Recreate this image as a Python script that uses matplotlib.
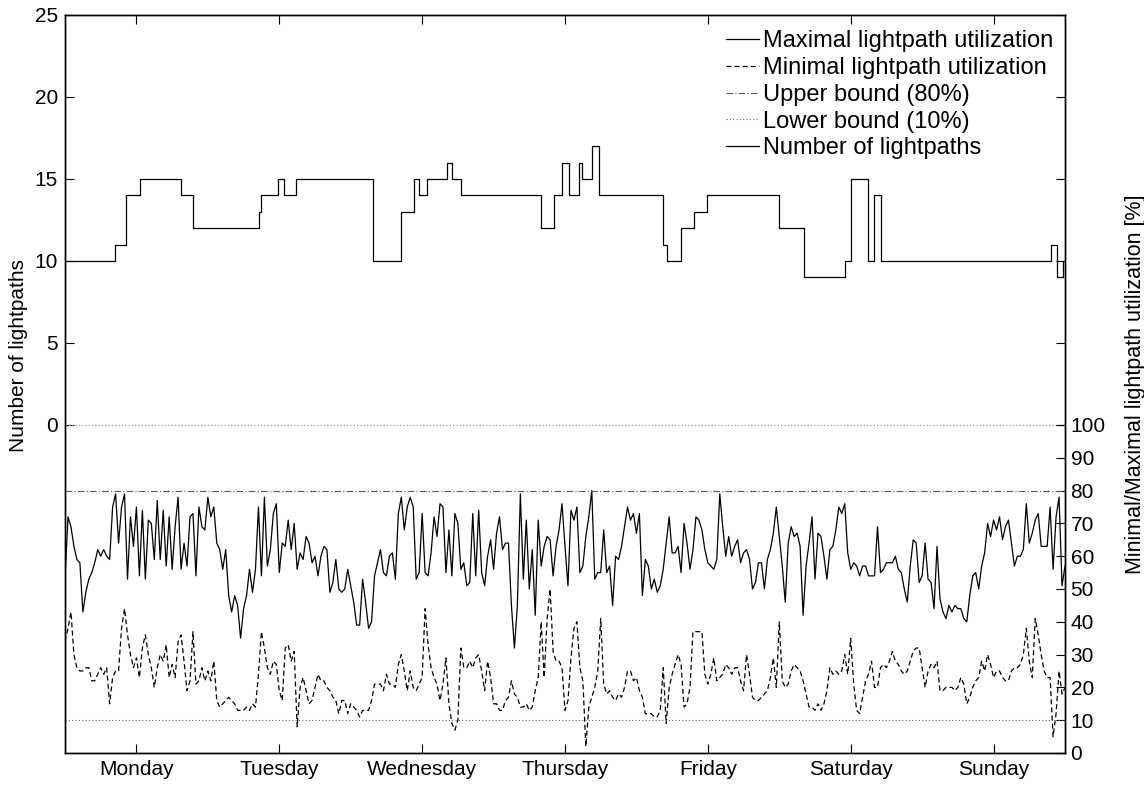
import numpy as np
import matplotlib.pyplot as plt
from matplotlib.lines import Line2D

# day labels for the x axis (one tick in the middle of every day)
days = ["Monday", "Tuesday", "Wednesday", "Thursday", "Friday", "Saturday", "Sunday"]

# maximal lightpath utilization [%], one sample every 30 minutes
mon_max = [53, 72, 69, 63, 59, 58, 43, 49, 53, 55, 58, 62, 60, 62, 60, 59, 75, 79, 64, 75,
           79, 53, 72, 63, 75, 54, 74, 53, 71, 70, 59, 77, 59, 74, 57, 72, 56, 69, 78, 56,
           64, 57, 72, 73, 54, 75, 69, 68]
tue_max = [78, 72, 75, 64, 62, 56, 62, 48, 43, 48, 45, 35, 44, 48, 56, 49, 56, 75, 54, 78,
           57, 62, 73, 76, 55, 64, 63, 71, 62, 70, 56, 61, 59, 66, 64, 58, 60, 54, 60, 63,
           62, 49, 52, 59, 50, 49, 50, 56]
wed_max = [51, 46, 39, 39, 53, 46, 38, 40, 54, 58, 62, 55, 54, 60, 61, 53, 73, 78, 68, 75,
           78, 75, 53, 55, 73, 55, 54, 61, 72, 66, 76, 75, 55, 68, 54, 73, 70, 56, 58, 51,
           52, 73, 54, 74, 55, 51, 60, 65]
thu_max = [56, 67, 72, 62, 64, 64, 45, 32, 45, 79, 53, 71, 50, 62, 42, 71, 57, 63, 66, 65,
           54, 63, 68, 76, 63, 51, 74, 71, 75, 55, 57, 66, 72, 80, 53, 55, 55, 68, 55, 57,
           45, 60, 59, 63, 69, 75, 71, 73]
fri_max = [67, 73, 48, 59, 57, 50, 53, 49, 51, 56, 64, 72, 61, 61, 63, 55, 70, 64, 56, 62,
           72, 71, 68, 62, 58, 57, 56, 59, 79, 69, 60, 66, 60, 63, 65, 58, 61, 62, 59, 50,
           52, 58, 58, 50, 59, 62, 67, 75]
sat_max = [66, 57, 46, 64, 69, 66, 67, 63, 42, 57, 64, 72, 53, 67, 66, 60, 53, 62, 63, 68,
           75, 73, 76, 61, 56, 58, 57, 54, 57, 57, 54, 54, 54, 69, 55, 56, 58, 58, 58, 60,
           56, 55, 50, 46, 57, 65, 64, 52]
sun_max = [54, 64, 53, 52, 44, 63, 47, 43, 41, 45, 43, 45, 44, 44, 41, 40, 48, 54, 55, 50,
           57, 61, 70, 66, 71, 68, 72, 65, 69, 71, 64, 57, 60, 60, 62, 76, 64, 67, 71, 73,
           63, 63, 63, 75, 56, 72, 78, 51, 57]

# minimal lightpath utilization [%]
mon_min = [34, 38, 43, 30, 26, 25, 25, 26, 26, 22, 22, 24, 26, 24, 26, 15, 23, 25, 25, 38,
           44, 36, 30, 26, 29, 23, 32, 36, 30, 26, 20, 26, 30, 28, 33, 23, 27, 23, 34, 36,
           28, 19, 22, 37, 21, 22, 26, 22]
tue_min = [25, 22, 28, 16, 14, 15, 16, 17, 16, 15, 13, 13, 13, 14, 13, 15, 14, 24, 37, 32,
           26, 24, 28, 27, 19, 16, 32, 33, 28, 31, 8, 20, 23, 19, 15, 16, 20, 24, 22, 22,
           20, 19, 17, 16, 12, 16, 16, 12]
wed_min = [15, 14, 13, 11, 13, 13, 13, 16, 21, 21, 21, 19, 24, 21, 21, 20, 27, 30, 25, 19,
           25, 20, 19, 21, 23, 44, 33, 26, 23, 21, 16, 21, 29, 15, 9, 7, 10, 32, 26, 26,
           28, 26, 29, 30, 25, 19, 28, 23]
thu_min = [15, 15, 13, 13, 16, 17, 22, 18, 17, 14, 14, 15, 13, 14, 19, 23, 40, 23, 41, 50,
           31, 28, 28, 26, 13, 16, 29, 38, 40, 26, 22, 2, 14, 17, 20, 25, 41, 21, 18, 19,
           17, 16, 18, 17, 20, 25, 25, 22]
fri_min = [23, 19, 17, 12, 12, 12, 11, 11, 13, 26, 9, 20, 24, 27, 30, 27, 14, 15, 20, 37,
           37, 37, 37, 24, 21, 24, 29, 22, 23, 24, 27, 26, 24, 26, 26, 22, 19, 30, 24, 17,
           16, 16, 17, 18, 19, 23, 29, 20]
sat_min = [40, 22, 20, 21, 25, 27, 26, 25, 22, 18, 14, 14, 13, 15, 13, 15, 19, 26, 24, 25,
           24, 25, 30, 24, 35, 21, 13, 12, 17, 22, 24, 28, 20, 20, 26, 27, 26, 28, 31, 28,
           27, 25, 24, 25, 28, 31, 32, 32]
sun_min = [26, 20, 25, 27, 26, 28, 19, 19, 20, 20, 20, 19, 20, 23, 21, 15, 17, 20, 22, 23,
           28, 25, 30, 27, 23, 25, 25, 23, 22, 22, 25, 26, 26, 27, 30, 38, 28, 23, 41, 36,
           30, 25, 23, 23, 5, 12, 25, 18, 20]

# number of lightpaths: hour of the week where a new value starts, and that value
lp_hours = [0, 8.4, 10.2, 12.6, 19.5, 21.5, 32.6, 33.0, 35.7, 36.8, 38.8, 51.7, 56.4,
            58.6, 59.5, 60.8, 64.2, 65.0, 66.5, 80.0, 82.2, 83.5, 84.7, 86.3, 86.9, 88.6,
            89.7, 100.4, 101.2, 103.5, 105.6, 107.8, 120.0, 124.2, 131.0, 132.1, 134.9,
            135.9, 137.1, 165.7, 166.7, 167.6]
lp_count = [10, 11, 14, 15, 14, 12, 13, 14, 15, 14, 15, 10, 13,
            15, 14, 15, 16, 15, 14, 12, 14, 16, 14, 16, 15, 17,
            14, 11, 10, 12, 13, 14, 12, 9, 10, 15, 10,
            14, 10, 11, 9, 10]

upper_bound = 80
lower_bound = 10

max_util = np.array(mon_max + tue_max + wed_max + thu_max + fri_max + sat_max + sun_max)
min_util = np.array(mon_min + tue_min + wed_min + thu_min + fri_min + sat_min + sun_min)
hours = np.arange(len(max_util)) * 0.5

plt.rcParams['font.family'] = ['Liberation Sans', 'DejaVu Sans']

fig = plt.figure(figsize=(11.44, 7.87), dpi=100)
ax = fig.add_axes([65 / 1144, 34 / 787, 1000 / 1144, 738 / 787])
ax2 = ax.twinx()

# upper part: number of lightpaths (left axis)
ax.step(lp_hours + [168], lp_count + [lp_count[-1]], where='post', color='k', lw=0.9)
ax.axhline(0, color='0.6', ls=':', lw=0.9)
ax.set_xlim(0, 168)
ax.set_ylim(-20, 25)
ax.set_yticks(range(0, 26, 5))
ax.set_xticks(np.arange(12, 168, 24))
ax.set_xticklabels(days)
ax.set_ylabel("Number of lightpaths", fontsize=15)
ax.yaxis.set_label_coords(-0.037, 0.538)

# lower part: utilization (right axis)
ax2.plot(hours, max_util, color='k', lw=0.9)
ax2.plot(hours, min_util, color='k', lw=0.9, dashes=(4, 2.5))
ax2.axhline(upper_bound, color='0.35', lw=0.8, dashes=(6, 2, 1, 2))
ax2.axhline(lower_bound, color='0.4', lw=0.8, dashes=(1, 2))
ax2.set_ylim(0, 225)
ax2.set_yticks(range(0, 101, 10))
ax2.set_ylabel("Minimal/Maximal lightpath utilization [%]", fontsize=15.5)
ax2.yaxis.set_label_coords(1.06, 0.5)

ax.tick_params(direction='in', length=6.5, top=True, right=True, labelsize=15, pad=5)
ax2.tick_params(direction='in', length=6.5, labelsize=15, pad=4)
for a in (ax, ax2):
    for s in a.spines.values():
        s.set_linewidth(1.0)

handles = [Line2D([], [], color='k', lw=0.9),
           Line2D([], [], color='k', lw=0.9, dashes=(4, 2.5)),
           Line2D([], [], color='0.35', lw=0.8, dashes=(6, 2, 1, 2)),
           Line2D([], [], color='0.4', lw=0.8, dashes=(1, 2)),
           Line2D([], [], color='k', lw=0.9)]
labels = ["Maximal lightpath utilization", "Minimal lightpath utilization",
          "Upper bound (80%)", "Lower bound (10%)", "Number of lightpaths"]
ax2.legend(handles, labels, loc='upper right', bbox_to_anchor=(1.004, 1.0),
           frameon=False, fontsize=17,
           handlelength=1.4, handletextpad=0.2, labelspacing=0.2,
           borderaxespad=0.45, borderpad=0.2)

fig.savefig("out.png", dpi=100)
